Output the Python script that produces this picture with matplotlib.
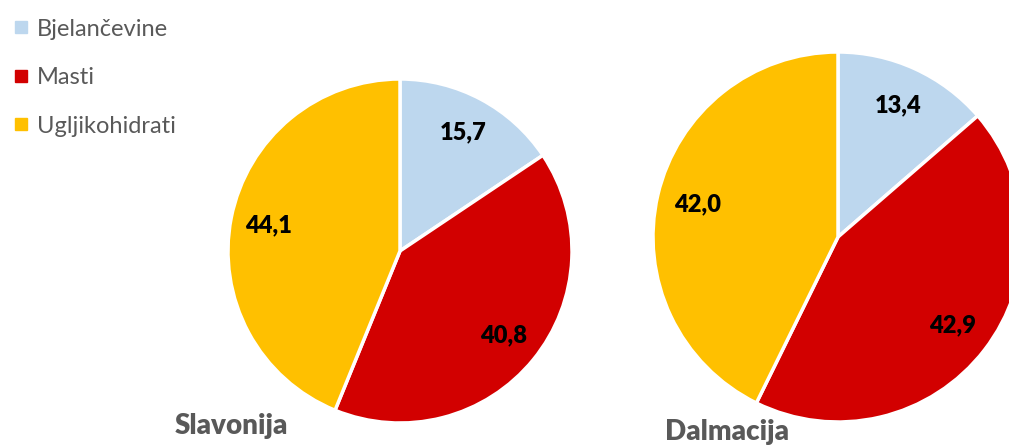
import numpy as np
import matplotlib.pyplot as plt
from matplotlib.lines import Line2D

plt.rcParams['font.family'] = ['Lato', 'DejaVu Sans']

categories = ['Bjelančevine', 'Masti', 'Ugljikohidrati']
colors = ['#BDD7EE', '#D20000', '#FFC000']
regions = ['Slavonija', 'Dalmacija']
slavonija = [15.7, 40.8, 44.1]
dalmacija = [13.4, 42.9, 42.0]

W, H = 1009, 446
fig = plt.figure(figsize=(W / 100, H / 100), dpi=100)
ax = fig.add_axes([0, 0, 1, 1])

# pixel layout: (center x, center y from top, radius, title x, title y)
layout = [(400, 251, 172, 231, 426), (838, 237, 185, 727, 432)]

for vals, name, (cx, cy, r, tx, ty) in zip([slavonija, dalmacija], regions, layout):
    wedges, _ = ax.pie(vals, colors=colors, startangle=90, counterclock=False,
                       center=(cx, H - cy), radius=r, frame=True,
                       wedgeprops=dict(edgecolor='white', linewidth=2.5))
    for w, v in zip(wedges, vals):
        ang = np.deg2rad((w.theta1 + w.theta2) / 2)
        ax.text(cx + 0.78 * r * np.cos(ang), H - cy + 0.78 * r * np.sin(ang),
                f'{v:.1f}'.replace('.', ','), ha='center', va='center',
                fontsize=17, fontweight='heavy', color='black')
    ax.text(tx, H - ty, name, ha='center', va='center', fontsize=20,
            fontweight='heavy', color='#595959')

ax.set_xlim(0, W)
ax.set_ylim(0, H)
ax.set_aspect('equal')
ax.axis('off')

handles = [Line2D([], [], marker='s', linestyle='none', markersize=8,
                  markerfacecolor=c, markeredgecolor=c) for c in colors]
ax.legend(handles, categories, loc='upper left', bbox_to_anchor=(-0.003, 0.995),
          frameon=False, fontsize=17, labelcolor='#595959', handlelength=0.6,
          handletextpad=0.4, labelspacing=1.16, borderaxespad=0.3)

fig.savefig('out.png', dpi=100)
